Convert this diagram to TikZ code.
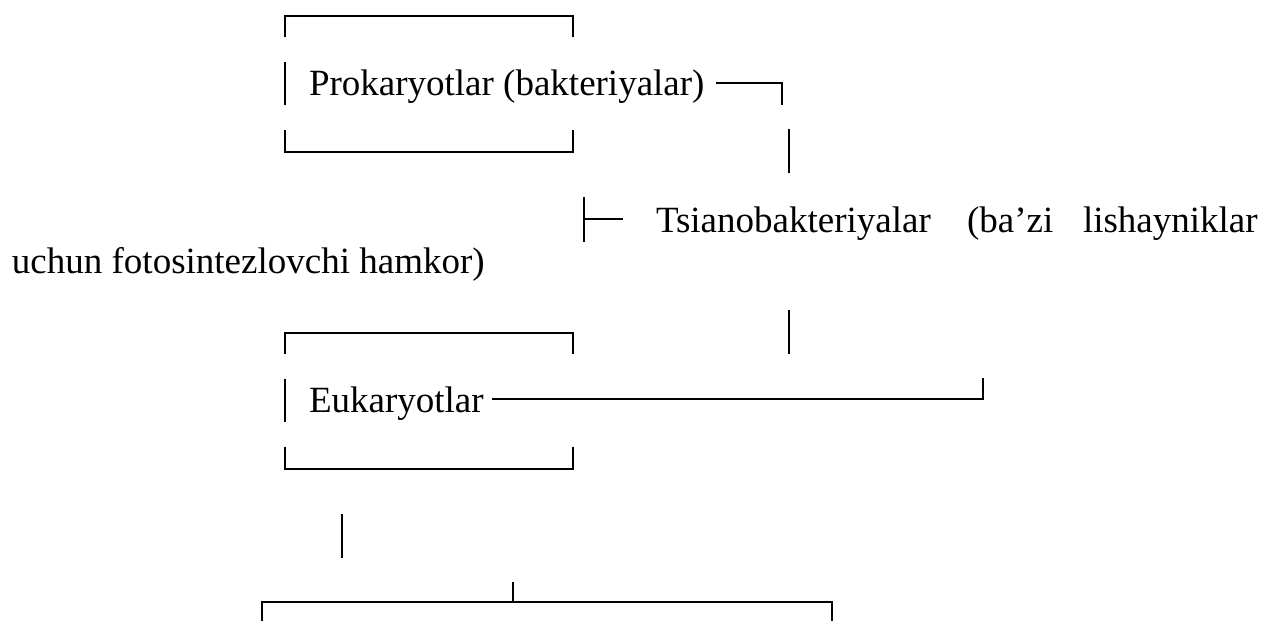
\documentclass[tikz,border=0pt]{standalone}
\usepackage{fontspec}
\setmainfont{Liberation Serif}
\begin{document}
\begin{tikzpicture}[x=1pt,y=-1pt,
  rule/.style={line width=2.6pt,line cap=butt,line join=miter},
  label/.style={inner sep=0pt,outer sep=0pt,anchor=base west,font=\fontsize{37}{44}\selectfont}]
\useasboundingbox (0,0) rectangle (1262,621);

% --- texts
\node[label] (prok) at (309,95) {Prokaryotlar (bakteriyalar)};
\node[label] (ts1) at (656,232) {Tsianobakteriyalar};
\node[label] (ts2) at (967,232) {(ba’zi};
\node[label] (ts3) at (1083,232) {lishayniklar};
\node[label] (ts4) at (12,273) {uchun fotosintezlovchi hamkor)};
\node[label] (euk) at (309,412) {Eukaryotlar};

% --- frame around the prokaryote line
\draw[rule] (285,37) -- (285,16) -- (573,16) -- (573,37);
\draw[rule] (285,62) -- (285,105);
\draw[rule] (285,130) -- (285,152) -- (573,152) -- (573,130);

% --- branch from prokaryotes down to the cyanobacteria line
\coordinate (pa) at (716,83);
\coordinate (pb) at (782,83);
\coordinate (pc) at (782,105);
\draw[rule] (pa) -- (pb) -- (pc);
\draw[rule] (789,129) -- (789,173);

% --- tee in front of the cyanobacteria line
\coordinate (ta) at (584,197);
\coordinate (tb) at (584,242);
\coordinate (tm) at (584,219);
\coordinate (te) at (623,219);
\draw[rule] (ta) -- (tb);
\draw[rule] (tm) -- (te);

% --- branch continuing down to the eukaryote line
\draw[rule] (789,310) -- (789,354);

% --- frame around the eukaryote line
\draw[rule] (285,354) -- (285,333) -- (573,333) -- (573,354);
\draw[rule] (285,379) -- (285,422);
\draw[rule] (285,447) -- (285,469) -- (573,469) -- (573,447);

\coordinate (ea) at (492,399);
\coordinate (eb) at (983,399);
\coordinate (ec) at (983,378);
\draw[rule] (ea) -- (eb) -- (ec);

% --- stem and lower fork
\draw[rule] (342,514) -- (342,558);
\coordinate (fl) at (262,630);
\coordinate (fr) at (832,630);
\draw[rule] (fl) -- (262,602) -- (832,602) -- (fr);
\draw[rule] (513,582) -- (513,602);
\end{tikzpicture}
\end{document}
